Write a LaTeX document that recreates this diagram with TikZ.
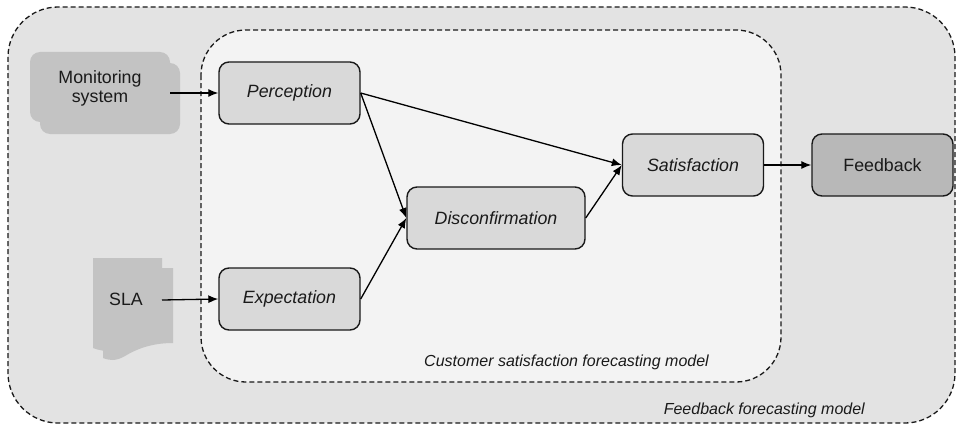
\documentclass[tikz,border=0pt]{standalone}
\usepackage{fontspec}
\setmainfont{Liberation Sans}
\usetikzlibrary{arrows.meta}
\definecolor{outerfill}{HTML}{E3E3E3}
\definecolor{innerfill}{HTML}{F3F3F3}
\definecolor{boxfill}{HTML}{D9D9D9}
\definecolor{fbfill}{HTML}{B8B8B8}
\definecolor{srcfill}{HTML}{C3C3C3}
\definecolor{txt}{HTML}{1A1A1A}
\tikzset{
  procbox/.style={draw=black!90, line width=1.4pt, rounded corners=10pt, fill=boxfill,
    minimum width=141pt, minimum height=62pt, inner sep=0pt, text=txt,
    font=\fontsize{17.8}{21}\selectfont\itshape},
  fbbox/.style={procbox, fill=fbfill, font=\fontsize{17.8}{21}\selectfont},
  region/.style={draw=black!90, line width=1.3pt, dash pattern=on 5pt off 3pt},
  conn/.style={line width=1.3pt, draw=black, -{Latex[length=10pt,width=8pt]}},
  lbl/.style={text=txt, font=\fontsize{16}{19}\selectfont\itshape, inner sep=0pt},
  srctext/.style={text=txt, font=\fontsize{17.8}{21}\selectfont, align=center, inner sep=0pt}
}
\begin{document}
\begin{tikzpicture}[x=1pt,y=-1pt]
\useasboundingbox (0,0) rectangle (963,428);
% regions
\draw[region, fill=outerfill, rounded corners=50pt] (8,7) rectangle (955,423);
\draw[region, fill=innerfill, rounded corners=45pt] (201,30) rectangle (781,382);
% monitoring system (stacked rounded rectangles)
\fill[srcfill, rounded corners=10pt] (40,63) rectangle (180,134);
\node[fill=srcfill, rounded corners=10pt, minimum width=140pt, minimum height=70pt, inner sep=0pt] (mon) at (100,87) {};
\node[srctext] (montext) at (100,88) {Monitoring\\[-2pt]system};
% SLA (multi-document shape)
\fill[srcfill] (103,268) -- (173,268) -- (173,343) .. controls (150,343) and (135,350) .. (125,356) .. controls (115,362) and (108,360) .. (103,358) -- cycle;
\fill[srcfill] (93,258) -- (162,258) -- (162,338) .. controls (140,338) and (125,345) .. (115,350) .. controls (105,352) and (98,350) .. (93,348) -- cycle;
\node[srctext] (sla) at (126,299) {SLA};
\coordinate (slaout) at (162,300);
% process boxes
\node[procbox] (per) at (289.5,93) {Perception};
\node[procbox] (exp) at (289.5,299) {Expectation};
\node[procbox, minimum width=178pt] (dis) at (496,218) {Disconfirmation};
\node[procbox] (sat) at (693,165) {Satisfaction};
\node[fbbox] (fb) at (882.5,165) {Feedback};
% connectors
\draw[conn] (mon.east |- per.west) -- (per.west);
\draw[conn] (slaout) -- (exp.west);
\draw[conn] (per.east) -- (sat.west);
\draw[conn] (per.east) -- (dis.west);
\draw[conn] (exp.east) -- (dis.west);
\draw[conn] (dis.east) -- (sat.west);
\draw[conn] (sat.east) -- (fb.west);
% labels
\node[lbl, anchor=east] (csfm) at (709,362) {Customer satisfaction forecasting model};
\node[lbl, anchor=east] (ffm) at (865,410) {Feedback forecasting model};
\end{tikzpicture}
\end{document}
